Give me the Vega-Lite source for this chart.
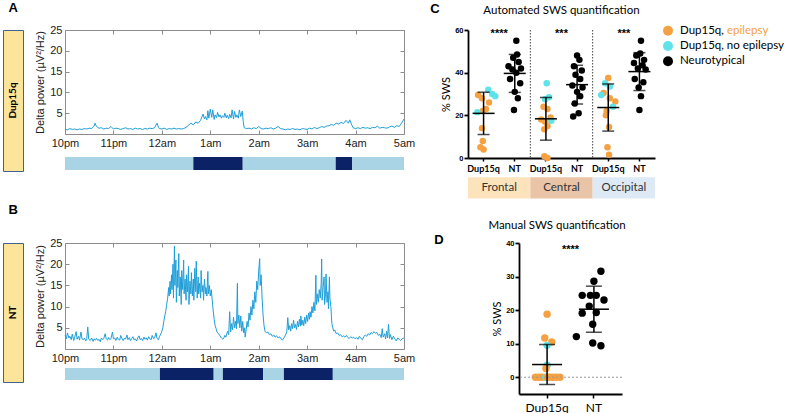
{
"$schema": "https://vega.github.io/schema/vega-lite/v6.json",
"background": "white",
"padding": {"left": 2, "top": 2, "right": 0, "bottom": 0},
"config": {"view": {"stroke": null}, "axis": {"grid": false, "labelOverlap": false}},
"datasets": {
"A": [{"t":0,"v":1.1},{"t":0.05,"v":1.0},{"t":0.1,"v":1.3},{"t":0.15,"v":1.1},{"t":0.2,"v":1.2},{"t":0.25,"v":1.0},{"t":0.3,"v":1.2},{"t":0.35,"v":1.1},{"t":0.4,"v":1.3},{"t":0.45,"v":1.2},{"t":0.5,"v":1.4},{"t":0.55,"v":1.3},{"t":0.6,"v":1.9},{"t":0.62,"v":2.6},{"t":0.65,"v":1.8},{"t":0.7,"v":1.4},{"t":0.75,"v":1.5},{"t":0.8,"v":1.2},{"t":0.85,"v":1.4},{"t":0.9,"v":1.3},{"t":0.95,"v":1.8},{"t":1.0,"v":1.2},{"t":1.05,"v":1.4},{"t":1.1,"v":1.3},{"t":1.15,"v":1.1},{"t":1.2,"v":1.3},{"t":1.25,"v":1.5},{"t":1.3,"v":1.2},{"t":1.35,"v":1.3},{"t":1.4,"v":1.1},{"t":1.45,"v":1.4},{"t":1.5,"v":1.2},{"t":1.55,"v":1.3},{"t":1.6,"v":1.1},{"t":1.65,"v":1.3},{"t":1.7,"v":1.2},{"t":1.75,"v":1.4},{"t":1.8,"v":1.3},{"t":1.85,"v":1.5},{"t":1.9,"v":2.6},{"t":1.93,"v":1.6},{"t":1.95,"v":1.3},{"t":2.0,"v":1.2},{"t":2.05,"v":1.4},{"t":2.1,"v":1.1},{"t":2.15,"v":1.3},{"t":2.2,"v":1.2},{"t":2.25,"v":1.4},{"t":2.3,"v":1.2},{"t":2.35,"v":1.3},{"t":2.4,"v":1.2},{"t":2.45,"v":1.3},{"t":2.5,"v":1.6},{"t":2.55,"v":2.1},{"t":2.6,"v":2.6},{"t":2.65,"v":2.2},{"t":2.7,"v":2.9},{"t":2.75,"v":2.6},{"t":2.8,"v":3.3},{"t":2.85,"v":4.8},{"t":2.88,"v":3.6},{"t":2.9,"v":4.2},{"t":2.93,"v":3.4},{"t":2.95,"v":5.6},{"t":2.97,"v":3.8},{"t":3.0,"v":6.0},{"t":3.03,"v":4.0},{"t":3.05,"v":5.8},{"t":3.08,"v":3.5},{"t":3.1,"v":4.6},{"t":3.13,"v":3.9},{"t":3.15,"v":5.2},{"t":3.18,"v":4.1},{"t":3.2,"v":4.6},{"t":3.23,"v":3.8},{"t":3.25,"v":4.4},{"t":3.28,"v":4.0},{"t":3.3,"v":5.0},{"t":3.33,"v":3.9},{"t":3.35,"v":4.5},{"t":3.38,"v":3.7},{"t":3.4,"v":4.7},{"t":3.43,"v":3.9},{"t":3.45,"v":5.8},{"t":3.48,"v":3.6},{"t":3.5,"v":5.4},{"t":3.53,"v":4.0},{"t":3.55,"v":4.6},{"t":3.58,"v":3.8},{"t":3.6,"v":5.8},{"t":3.63,"v":4.2},{"t":3.66,"v":5.5},{"t":3.68,"v":3.0},{"t":3.7,"v":1.5},{"t":3.75,"v":1.3},{"t":3.8,"v":1.4},{"t":3.85,"v":1.2},{"t":3.9,"v":1.5},{"t":3.95,"v":1.3},{"t":4.0,"v":1.8},{"t":4.05,"v":1.3},{"t":4.1,"v":1.2},{"t":4.15,"v":1.4},{"t":4.2,"v":1.3},{"t":4.25,"v":1.5},{"t":4.3,"v":1.2},{"t":4.35,"v":1.4},{"t":4.4,"v":1.8},{"t":4.45,"v":1.3},{"t":4.5,"v":1.2},{"t":4.55,"v":1.0},{"t":4.6,"v":1.2},{"t":4.65,"v":1.1},{"t":4.7,"v":1.3},{"t":4.75,"v":1.1},{"t":4.8,"v":1.2},{"t":4.85,"v":1.0},{"t":4.9,"v":1.3},{"t":4.95,"v":1.2},{"t":5.0,"v":1.1},{"t":5.05,"v":1.4},{"t":5.1,"v":1.2},{"t":5.15,"v":1.6},{"t":5.2,"v":1.3},{"t":5.25,"v":1.5},{"t":5.3,"v":1.8},{"t":5.35,"v":1.6},{"t":5.4,"v":1.9},{"t":5.45,"v":2.0},{"t":5.5,"v":2.3},{"t":5.55,"v":2.1},{"t":5.6,"v":2.6},{"t":5.65,"v":2.4},{"t":5.7,"v":2.8},{"t":5.75,"v":2.5},{"t":5.8,"v":3.3},{"t":5.85,"v":2.6},{"t":5.88,"v":3.4},{"t":5.92,"v":2.2},{"t":5.95,"v":1.5},{"t":6.0,"v":1.3},{"t":6.05,"v":1.5},{"t":6.1,"v":1.3},{"t":6.15,"v":1.6},{"t":6.2,"v":1.4},{"t":6.25,"v":1.5},{"t":6.3,"v":1.3},{"t":6.35,"v":1.6},{"t":6.4,"v":1.5},{"t":6.45,"v":1.9},{"t":6.5,"v":1.4},{"t":6.55,"v":1.6},{"t":6.6,"v":1.5},{"t":6.65,"v":1.4},{"t":6.7,"v":1.7},{"t":6.75,"v":1.9},{"t":6.8,"v":1.6},{"t":6.85,"v":2.0},{"t":6.9,"v":1.8},{"t":6.95,"v":2.6},{"t":7.0,"v":3.6}],
"B": [{"t":0,"v":3.2},{"t":0.03,"v":2.4},{"t":0.05,"v":3.8},{"t":0.08,"v":2.6},{"t":0.1,"v":3.0},{"t":0.13,"v":2.2},{"t":0.15,"v":3.5},{"t":0.18,"v":2.0},{"t":0.2,"v":2.8},{"t":0.23,"v":4.1},{"t":0.25,"v":2.3},{"t":0.28,"v":3.0},{"t":0.3,"v":2.1},{"t":0.33,"v":4.0},{"t":0.35,"v":2.4},{"t":0.38,"v":2.2},{"t":0.4,"v":2.6},{"t":0.43,"v":1.9},{"t":0.45,"v":2.5},{"t":0.47,"v":5.2},{"t":0.49,"v":2.3},{"t":0.52,"v":2.0},{"t":0.55,"v":2.6},{"t":0.58,"v":1.8},{"t":0.6,"v":2.4},{"t":0.63,"v":2.1},{"t":0.65,"v":2.5},{"t":0.68,"v":2.0},{"t":0.7,"v":2.3},{"t":0.73,"v":1.7},{"t":0.75,"v":2.6},{"t":0.78,"v":2.2},{"t":0.8,"v":2.5},{"t":0.83,"v":3.6},{"t":0.85,"v":2.4},{"t":0.88,"v":2.1},{"t":0.9,"v":2.7},{"t":0.93,"v":2.2},{"t":0.95,"v":2.5},{"t":0.98,"v":4.0},{"t":1.0,"v":2.4},{"t":1.03,"v":2.6},{"t":1.05,"v":2.0},{"t":1.08,"v":2.8},{"t":1.1,"v":2.3},{"t":1.13,"v":2.1},{"t":1.15,"v":3.2},{"t":1.18,"v":2.4},{"t":1.2,"v":2.0},{"t":1.23,"v":2.6},{"t":1.25,"v":2.3},{"t":1.28,"v":3.3},{"t":1.3,"v":2.2},{"t":1.33,"v":2.7},{"t":1.35,"v":2.0},{"t":1.38,"v":2.5},{"t":1.4,"v":2.9},{"t":1.43,"v":2.1},{"t":1.45,"v":2.4},{"t":1.48,"v":1.9},{"t":1.5,"v":2.6},{"t":1.53,"v":3.1},{"t":1.55,"v":2.2},{"t":1.58,"v":2.5},{"t":1.6,"v":2.0},{"t":1.63,"v":2.8},{"t":1.65,"v":2.3},{"t":1.68,"v":2.6},{"t":1.7,"v":2.1},{"t":1.73,"v":2.9},{"t":1.75,"v":2.4},{"t":1.78,"v":2.2},{"t":1.8,"v":3.2},{"t":1.83,"v":2.4},{"t":1.85,"v":2.6},{"t":1.88,"v":3.8},{"t":1.9,"v":2.5},{"t":1.93,"v":2.2},{"t":1.95,"v":2.9},{"t":1.98,"v":3.6},{"t":2.0,"v":4.2},{"t":2.02,"v":5.0},{"t":2.04,"v":6.5},{"t":2.06,"v":7.8},{"t":2.08,"v":8.9},{"t":2.1,"v":10.5},{"t":2.12,"v":12.0},{"t":2.14,"v":14.5},{"t":2.15,"v":12.5},{"t":2.17,"v":16.0},{"t":2.18,"v":13.0},{"t":2.2,"v":17.5},{"t":2.21,"v":14.0},{"t":2.23,"v":20.0},{"t":2.24,"v":12.0},{"t":2.26,"v":24.3},{"t":2.27,"v":15.0},{"t":2.29,"v":21.0},{"t":2.3,"v":11.0},{"t":2.32,"v":18.5},{"t":2.33,"v":14.5},{"t":2.35,"v":22.5},{"t":2.36,"v":12.5},{"t":2.38,"v":17.0},{"t":2.4,"v":10.5},{"t":2.41,"v":18.5},{"t":2.43,"v":14.0},{"t":2.45,"v":21.0},{"t":2.46,"v":13.0},{"t":2.48,"v":16.5},{"t":2.5,"v":11.5},{"t":2.51,"v":17.5},{"t":2.53,"v":13.5},{"t":2.55,"v":19.5},{"t":2.56,"v":10.5},{"t":2.58,"v":16.0},{"t":2.6,"v":13.0},{"t":2.61,"v":18.0},{"t":2.63,"v":12.5},{"t":2.65,"v":16.5},{"t":2.66,"v":11.5},{"t":2.68,"v":19.0},{"t":2.7,"v":13.5},{"t":2.71,"v":20.7},{"t":2.73,"v":12.0},{"t":2.75,"v":17.0},{"t":2.76,"v":13.0},{"t":2.78,"v":15.5},{"t":2.8,"v":12.0},{"t":2.81,"v":18.5},{"t":2.83,"v":13.5},{"t":2.85,"v":15.0},{"t":2.86,"v":11.5},{"t":2.88,"v":16.5},{"t":2.9,"v":13.0},{"t":2.91,"v":14.5},{"t":2.93,"v":12.5},{"t":2.95,"v":18.3},{"t":2.96,"v":13.0},{"t":2.98,"v":15.0},{"t":3.0,"v":12.5},{"t":3.02,"v":14.0},{"t":3.04,"v":11.5},{"t":3.06,"v":9.0},{"t":3.08,"v":7.0},{"t":3.1,"v":5.5},{"t":3.12,"v":4.8},{"t":3.14,"v":4.0},{"t":3.17,"v":3.6},{"t":3.2,"v":3.1},{"t":3.23,"v":2.6},{"t":3.26,"v":2.3},{"t":3.28,"v":2.6},{"t":3.3,"v":3.2},{"t":3.32,"v":2.8},{"t":3.34,"v":3.6},{"t":3.36,"v":4.2},{"t":3.38,"v":3.4},{"t":3.4,"v":8.8},{"t":3.42,"v":4.0},{"t":3.44,"v":6.0},{"t":3.46,"v":4.5},{"t":3.48,"v":7.5},{"t":3.5,"v":5.0},{"t":3.52,"v":6.5},{"t":3.54,"v":4.8},{"t":3.56,"v":15.5},{"t":3.57,"v":6.0},{"t":3.59,"v":8.0},{"t":3.61,"v":5.0},{"t":3.63,"v":7.8},{"t":3.65,"v":4.2},{"t":3.67,"v":6.5},{"t":3.69,"v":3.8},{"t":3.71,"v":5.0},{"t":3.72,"v":2.8},{"t":3.74,"v":4.5},{"t":3.76,"v":6.5},{"t":3.78,"v":5.2},{"t":3.8,"v":8.5},{"t":3.82,"v":6.8},{"t":3.84,"v":10.0},{"t":3.86,"v":8.0},{"t":3.88,"v":11.5},{"t":3.9,"v":9.5},{"t":3.92,"v":13.5},{"t":3.94,"v":11.0},{"t":3.96,"v":16.0},{"t":3.98,"v":14.0},{"t":4.0,"v":18.5},{"t":4.02,"v":21.3},{"t":4.03,"v":15.0},{"t":4.05,"v":17.5},{"t":4.07,"v":12.0},{"t":4.09,"v":8.0},{"t":4.11,"v":5.5},{"t":4.13,"v":4.2},{"t":4.16,"v":3.8},{"t":4.19,"v":4.0},{"t":4.22,"v":3.4},{"t":4.25,"v":3.6},{"t":4.28,"v":3.0},{"t":4.31,"v":3.3},{"t":4.34,"v":2.8},{"t":4.37,"v":3.1},{"t":4.4,"v":2.6},{"t":4.43,"v":2.9},{"t":4.46,"v":2.4},{"t":4.49,"v":2.1},{"t":4.52,"v":2.6},{"t":4.55,"v":3.2},{"t":4.58,"v":4.0},{"t":4.6,"v":7.4},{"t":4.62,"v":4.5},{"t":4.64,"v":5.5},{"t":4.66,"v":4.2},{"t":4.68,"v":6.0},{"t":4.7,"v":4.8},{"t":4.72,"v":6.8},{"t":4.74,"v":5.0},{"t":4.76,"v":5.8},{"t":4.78,"v":4.6},{"t":4.8,"v":6.5},{"t":4.82,"v":5.2},{"t":4.84,"v":7.0},{"t":4.86,"v":5.4},{"t":4.87,"v":7.8},{"t":4.89,"v":5.6},{"t":4.91,"v":6.8},{"t":4.93,"v":5.5},{"t":4.95,"v":7.5},{"t":4.97,"v":6.0},{"t":4.99,"v":8.0},{"t":5.01,"v":6.5},{"t":5.03,"v":8.5},{"t":5.05,"v":7.0},{"t":5.06,"v":8.8},{"t":5.08,"v":7.5},{"t":5.1,"v":10.0},{"t":5.12,"v":8.5},{"t":5.14,"v":11.0},{"t":5.16,"v":9.0},{"t":5.18,"v":17.4},{"t":5.19,"v":10.5},{"t":5.21,"v":13.0},{"t":5.23,"v":11.0},{"t":5.25,"v":14.0},{"t":5.27,"v":12.0},{"t":5.29,"v":15.5},{"t":5.3,"v":21.2},{"t":5.31,"v":11.5},{"t":5.33,"v":14.5},{"t":5.35,"v":17.0},{"t":5.36,"v":10.5},{"t":5.38,"v":13.0},{"t":5.39,"v":17.7},{"t":5.41,"v":11.0},{"t":5.43,"v":13.5},{"t":5.44,"v":9.5},{"t":5.46,"v":17.0},{"t":5.47,"v":12.0},{"t":5.49,"v":10.0},{"t":5.51,"v":6.0},{"t":5.53,"v":5.0},{"t":5.55,"v":4.2},{"t":5.57,"v":4.5},{"t":5.6,"v":3.6},{"t":5.63,"v":3.8},{"t":5.66,"v":3.2},{"t":5.69,"v":3.4},{"t":5.72,"v":2.9},{"t":5.75,"v":3.1},{"t":5.78,"v":2.8},{"t":5.81,"v":3.2},{"t":5.84,"v":2.7},{"t":5.87,"v":2.5},{"t":5.9,"v":2.9},{"t":5.93,"v":2.6},{"t":5.96,"v":2.8},{"t":5.99,"v":2.4},{"t":6.02,"v":2.7},{"t":6.05,"v":2.3},{"t":6.08,"v":3.0},{"t":6.11,"v":2.5},{"t":6.14,"v":2.2},{"t":6.17,"v":2.9},{"t":6.2,"v":3.3},{"t":6.23,"v":3.0},{"t":6.26,"v":3.6},{"t":6.29,"v":3.3},{"t":6.32,"v":3.9},{"t":6.35,"v":3.6},{"t":6.38,"v":4.1},{"t":6.41,"v":3.7},{"t":6.44,"v":3.9},{"t":6.47,"v":3.2},{"t":6.5,"v":3.5},{"t":6.53,"v":2.7},{"t":6.55,"v":4.8},{"t":6.57,"v":2.8},{"t":6.6,"v":3.6},{"t":6.62,"v":2.4},{"t":6.64,"v":4.2},{"t":6.66,"v":2.6},{"t":6.68,"v":5.8},{"t":6.7,"v":2.5},{"t":6.72,"v":3.4},{"t":6.75,"v":2.2},{"t":6.78,"v":3.0},{"t":6.81,"v":2.4},{"t":6.84,"v":1.9},{"t":6.87,"v":2.6},{"t":6.9,"v":2.3},{"t":6.93,"v":2.0},{"t":6.96,"v":2.4},{"t":7.0,"v":2.6}],
"hypA": [{"s":0,"e":2.65,"stage":"other"},{"s":2.65,"e":3.67,"stage":"SWS"},{"s":3.67,"e":5.59,"stage":"other"},{"s":5.59,"e":5.93,"stage":"SWS"},{"s":5.93,"e":7,"stage":"other"}],
"hypB": [{"s":0,"e":1.96,"stage":"other"},{"s":1.96,"e":3.07,"stage":"SWS"},{"s":3.07,"e":3.26,"stage":"other"},{"s":3.26,"e":4.09,"stage":"SWS"},{"s":4.09,"e":4.52,"stage":"other"},{"s":4.52,"e":5.53,"stage":"SWS"},{"s":5.53,"e":7,"stage":"other"}],
"regions": [{"region":"Frontal","stars":"****"},{"region":"Central","stars":"***"},{"region":"Occipital","stars":"***"}],
"C": [
{"col":"Frontal Dup15q","cat":"no epilepsy","v":32,"j":0.3},{"col":"Frontal Dup15q","cat":"no epilepsy","v":30,"j":0.55},{"col":"Frontal Dup15q","cat":"epilepsy","v":29.5,"j":-0.35},{"col":"Frontal Dup15q","cat":"epilepsy","v":28,"j":-0.1},{"col":"Frontal Dup15q","cat":"no epilepsy","v":29,"j":0.75},{"col":"Frontal Dup15q","cat":"epilepsy","v":26,"j":0.35},{"col":"Frontal Dup15q","cat":"epilepsy","v":23,"j":0.15},{"col":"Frontal Dup15q","cat":"epilepsy","v":22,"j":-0.05},{"col":"Frontal Dup15q","cat":"no epilepsy","v":21.5,"j":-0.4},{"col":"Frontal Dup15q","cat":"epilepsy","v":14,"j":-0.1},{"col":"Frontal Dup15q","cat":"epilepsy","v":8,"j":-0.05},{"col":"Frontal Dup15q","cat":"epilepsy","v":5,"j":-0.2},{"col":"Frontal Dup15q","cat":"epilepsy","v":4,"j":0.0},
{"col":"Frontal NT","cat":"NT","v":55,"j":0.1},{"col":"Frontal NT","cat":"NT","v":48.5,"j":0.15},{"col":"Frontal NT","cat":"NT","v":47,"j":-0.1},{"col":"Frontal NT","cat":"NT","v":45,"j":0.25},{"col":"Frontal NT","cat":"NT","v":43,"j":-0.4},{"col":"Frontal NT","cat":"NT","v":42,"j":0.4},{"col":"Frontal NT","cat":"NT","v":41.5,"j":-0.15},{"col":"Frontal NT","cat":"NT","v":40,"j":0.1},{"col":"Frontal NT","cat":"NT","v":37,"j":-0.3},{"col":"Frontal NT","cat":"NT","v":35,"j":0.35},{"col":"Frontal NT","cat":"NT","v":31,"j":0.0},{"col":"Frontal NT","cat":"NT","v":28,"j":0.2},{"col":"Frontal NT","cat":"NT","v":22.5,"j":-0.05},
{"col":"Central Dup15q","cat":"no epilepsy","v":35,"j":0.05},{"col":"Central Dup15q","cat":"no epilepsy","v":28.5,"j":0.2},{"col":"Central Dup15q","cat":"no epilepsy","v":27.5,"j":-0.05},{"col":"Central Dup15q","cat":"epilepsy","v":24,"j":-0.15},{"col":"Central Dup15q","cat":"epilepsy","v":23,"j":0.1},{"col":"Central Dup15q","cat":"epilepsy","v":19,"j":0.3},{"col":"Central Dup15q","cat":"epilepsy","v":18,"j":-0.3},{"col":"Central Dup15q","cat":"no epilepsy","v":17.5,"j":0.35},{"col":"Central Dup15q","cat":"epilepsy","v":17,"j":-0.05},{"col":"Central Dup15q","cat":"epilepsy","v":15,"j":0.1},{"col":"Central Dup15q","cat":"epilepsy","v":13.5,"j":-0.1},{"col":"Central Dup15q","cat":"epilepsy","v":0.8,"j":-0.1},{"col":"Central Dup15q","cat":"epilepsy","v":0,"j":0.1},
{"col":"Central NT","cat":"NT","v":48,"j":0.0},{"col":"Central NT","cat":"NT","v":46,"j":0.15},{"col":"Central NT","cat":"NT","v":43,"j":-0.2},{"col":"Central NT","cat":"NT","v":41,"j":0.3},{"col":"Central NT","cat":"NT","v":39,"j":-0.1},{"col":"Central NT","cat":"NT","v":37,"j":0.2},{"col":"Central NT","cat":"NT","v":34,"j":-0.3},{"col":"Central NT","cat":"NT","v":33,"j":0.35},{"col":"Central NT","cat":"NT","v":31,"j":0.0},{"col":"Central NT","cat":"NT","v":29,"j":0.2},{"col":"Central NT","cat":"NT","v":25.5,"j":-0.15},{"col":"Central NT","cat":"NT","v":21,"j":0.1},{"col":"Central NT","cat":"NT","v":19.5,"j":-0.25},
{"col":"Occipital Dup15q","cat":"epilepsy","v":37.5,"j":0.0},{"col":"Occipital Dup15q","cat":"no epilepsy","v":35,"j":-0.2},{"col":"Occipital Dup15q","cat":"no epilepsy","v":33.5,"j":0.1},{"col":"Occipital Dup15q","cat":"epilepsy","v":30.5,"j":-0.3},{"col":"Occipital Dup15q","cat":"no epilepsy","v":29.5,"j":-0.45},{"col":"Occipital Dup15q","cat":"epilepsy","v":28,"j":0.1},{"col":"Occipital Dup15q","cat":"epilepsy","v":26.5,"j":0.45},{"col":"Occipital Dup15q","cat":"no epilepsy","v":24,"j":0.3},{"col":"Occipital Dup15q","cat":"epilepsy","v":22,"j":-0.1},{"col":"Occipital Dup15q","cat":"epilepsy","v":20,"j":-0.15},{"col":"Occipital Dup15q","cat":"epilepsy","v":14.5,"j":0.05},{"col":"Occipital Dup15q","cat":"epilepsy","v":5,"j":-0.05},{"col":"Occipital Dup15q","cat":"epilepsy","v":1.5,"j":0.05},
{"col":"Occipital NT","cat":"NT","v":55,"j":0.1},{"col":"Occipital NT","cat":"NT","v":49,"j":0.05},{"col":"Occipital NT","cat":"NT","v":48,"j":-0.2},{"col":"Occipital NT","cat":"NT","v":46,"j":0.3},{"col":"Occipital NT","cat":"NT","v":44.5,"j":-0.35},{"col":"Occipital NT","cat":"NT","v":43.5,"j":0.2},{"col":"Occipital NT","cat":"NT","v":42,"j":-0.1},{"col":"Occipital NT","cat":"NT","v":41.5,"j":0.4},{"col":"Occipital NT","cat":"NT","v":37,"j":-0.3},{"col":"Occipital NT","cat":"NT","v":35.5,"j":0.25},{"col":"Occipital NT","cat":"NT","v":33,"j":-0.05},{"col":"Occipital NT","cat":"NT","v":29,"j":0.1},{"col":"Occipital NT","cat":"NT","v":22.5,"j":0.0}],
"D": [
{"group":"Dup15q","cat":"epilepsy","v":18.8,"j":0.0},{"group":"Dup15q","cat":"epilepsy","v":11.7,"j":-0.1},{"group":"Dup15q","cat":"epilepsy","v":10.5,"j":0.2},{"group":"Dup15q","cat":"no epilepsy","v":9.5,"j":0.0},{"group":"Dup15q","cat":"no epilepsy","v":3.6,"j":0.0},{"group":"Dup15q","cat":"epilepsy","v":2.6,"j":-0.05},{"group":"Dup15q","cat":"epilepsy","v":0,"j":-0.5},{"group":"Dup15q","cat":"epilepsy","v":0,"j":-0.35},{"group":"Dup15q","cat":"epilepsy","v":0,"j":-0.2},{"group":"Dup15q","cat":"no epilepsy","v":0,"j":-0.05},{"group":"Dup15q","cat":"epilepsy","v":0,"j":0.1},{"group":"Dup15q","cat":"epilepsy","v":0,"j":0.25},{"group":"Dup15q","cat":"epilepsy","v":0,"j":0.4},{"group":"Dup15q","cat":"epilepsy","v":0,"j":0.55},{"group":"Dup15q","cat":"epilepsy","v":0,"j":0.0},
{"group":"NT","cat":"NT","v":31.6,"j":0.3},{"group":"NT","cat":"NT","v":28.6,"j":0.0},{"group":"NT","cat":"NT","v":24.4,"j":-0.5},{"group":"NT","cat":"NT","v":24.4,"j":-0.15},{"group":"NT","cat":"NT","v":24.4,"j":0.1},{"group":"NT","cat":"NT","v":23,"j":0.43},{"group":"NT","cat":"NT","v":21.2,"j":-0.2},{"group":"NT","cat":"NT","v":19.1,"j":-0.5},{"group":"NT","cat":"NT","v":19.3,"j":0.1},{"group":"NT","cat":"NT","v":15.8,"j":-0.05},{"group":"NT","cat":"NT","v":12.1,"j":-0.75},{"group":"NT","cat":"NT","v":10.2,"j":-0.05},{"group":"NT","cat":"NT","v":9.4,"j":0.3}],
"leg": [{"k":1,"cat":"epilepsy","a":"Dup15q,","b":"epilepsy"},{"k":2,"cat":"no epilepsy","a":"Dup15q, no epilepsy","b":""},{"k":3,"cat":"NT","a":"Neurotypical","b":""}]
},
"resolve": {"scale": {"color": "independent"}},
"vconcat": [
{"resolve": {"scale": {"color": "independent"}},
 "hconcat": [
 {"title": {"text":"A","anchor":"start","frame":"bounds","fontSize":13,"fontWeight":"bold","font":"Liberation Sans","offset":9,"dx":6},
  "resolve": {"scale": {"color": "independent"}},
  "hconcat": [
   {"width":20,"height":141,"view":{"fill":"#fde49b","stroke":"#41618f","strokeWidth":1},"data":{"values":[{"lab":"Dup15q"}]},
    "mark":{"type":"text","angle":270,"fontWeight":"bold","fontSize":10,"font":"Lato","color":"black"},"encoding":{"text":{"field":"lab"}}},
   {"resolve": {"scale": {"color": "independent"}},
    "vconcat": [
     {"width":339,"height":104,"data":{"name":"A"},
      "layer":[
       {"mark":{"type":"line","color":"#1f9ed9","strokeWidth":1},
        "encoding":{"x":{"field":"t","type":"quantitative","scale":{"domain":[0,7],"nice":false},"axis":{"orient":"bottom","values":[0,1,2,3,4,5,6,7],"labelExpr":"['10pm','11pm','12am','1am','2am','3am','4am','5am'][datum.value]","title":null,"labelFont":"Liberation Sans","labelFontSize":11,"labelColor":"#222","domainColor":"#8c8c8c","tickColor":"#8c8c8c","tickSize":-4,"labelPadding":7,"labelFlush":false,"labelOverlap":false}},
         "y":{"field":"v","type":"quantitative","scale":{"domain":[0,25],"nice":false},"axis":{"values":[5,10,15,20,25],"title":"Delta power (µV²/Hz)","titleFont":"Liberation Sans","titleFontSize":11,"titleFontWeight":"normal","titleColor":"#222","labelFont":"Liberation Sans","labelFontSize":11,"labelColor":"#222","domainColor":"#8c8c8c","tickColor":"#8c8c8c","tickSize":-4,"labelPadding":7,"titlePadding":4}}}},
       {"mark":{"type":"line","opacity":0},
        "encoding":{"x":{"field":"t","type":"quantitative","axis":{"orient":"top","values":[0,1,2,3,4,5,6,7],"labels":false,"title":null,"domainColor":"#8c8c8c","tickColor":"#8c8c8c","tickSize":-4}},
         "y":{"field":"v","type":"quantitative","axis":{"orient":"right","values":[5,10,15,20,25],"labels":false,"title":null,"domainColor":"#8c8c8c","tickColor":"#8c8c8c","tickSize":-4}}}}
      ],
      "resolve":{"axis":{"x":"independent","y":"independent"}}},
     {"width":339,"height":13,"data":{"name":"hypA"},"mark":{"type":"rect"},
      "encoding":{"x":{"field":"s","type":"quantitative","scale":{"domain":[0,7],"nice":false},"axis":null},"x2":{"field":"e"},
       "color":{"field":"stage","type":"nominal","scale":{"domain":["other","SWS"],"range":["#a9d4e5","#0b2266"]},"legend":null}}}
    ], "spacing": 9}
  ], "spacing": 10},
 {"resolve": {"scale": {"color": "independent"}},
  "hconcat": [
   {"width":10,"height":1,"data":{"values":[{}]},
    "title":{"text":"C","anchor":"middle","fontSize":13,"fontWeight":"bold","font":"Liberation Sans","color":"black","offset":14},
    "mark":{"type":"rule","opacity":0},"encoding":{}},
   {"resolve": {"scale": {"color": "independent"}},
    "hconcat": [
     {"width":187,"height":128,
      "title":{"text":"Automated SWS quantification","frame":"group","font":"Lato","fontSize":11.5,"fontWeight":"normal","color":"black","offset":10},
      "layer":[
       {"data":{"name":"regions"},"layer":[
         {"mark":{"type":"rect"},"encoding":{"x":{"field":"region","type":"nominal","bandPosition":0,"scale":{"type":"band","domain":["Frontal","Central","Occipital"],"paddingInner":0,"paddingOuter":0},"axis":null},"x2":{"field":"region","bandPosition":1},"y":{"datum":-9,"type":"quantitative"},"y2":{"datum":-19},"color":{"field":"region","type":"nominal","scale":{"domain":["Frontal","Central","Occipital"],"range":["#fce3bb","#eac4a7","#dde9f5"]},"legend":null}}},
         {"mark":{"type":"text","font":"Lato","fontSize":11.5,"color":"#333"},"encoding":{"x":{"field":"region","type":"nominal","axis":null},"y":{"datum":-14,"type":"quantitative"},"text":{"field":"region"}}},
         {"transform":[{"filter":"datum.region !== 'Frontal'"}],"mark":{"type":"rule","strokeDash":[1.5,1.5],"color":"#444","strokeWidth":1},"encoding":{"x":{"field":"region","type":"nominal","bandPosition":0,"axis":null}}},
         {"mark":{"type":"text","font":"Liberation Sans","fontSize":11,"fontWeight":"bold","color":"black"},"encoding":{"x":{"field":"region","type":"nominal","axis":null},"y":{"datum":58,"type":"quantitative"},"text":{"field":"stars"}}}
       ]},
       {"data":{"name":"C"},"layer":[
         {"mark":{"type":"point","filled":true,"size":42,"opacity":1},
          "encoding":{"x":{"field":"col","type":"nominal","sort":null,"scale":{"domain":["Frontal Dup15q","Frontal NT","Central Dup15q","Central NT","Occipital Dup15q","Occipital NT"],"paddingInner":0,"paddingOuter":0},"axis":{"title":null,"labelExpr":"split(datum.label,' ')[1]","labelAngle":0,"labelFont":"Lato","labelFontSize":9,"labelFontWeight":"bold","labelColor":"black","domainColor":"black","domainWidth":1.8,"tickColor":"black","tickWidth":1.5,"tickSize":3,"labelPadding":3}},
           "xOffset":{"field":"j","type":"quantitative","scale":{"domain":[-1,1]}},
           "y":{"field":"v","type":"quantitative","title":"% SWS","scale":{"domain":[0,60],"nice":false},"axis":{"title":"% SWS","values":[0,20,40,60],"tickCount":4,"titleFont":"Lato","titleFontSize":11,"titleFontWeight":"normal","titleColor":"black","labelFont":"Liberation Sans","labelFontSize":7.5,"labelFontWeight":"bold","labelColor":"black","domainColor":"black","domainWidth":1.8,"tickColor":"black","tickWidth":1.8,"tickSize":4,"labelPadding":1,"titlePadding":3}},
           "color":{"field":"cat","type":"nominal","scale":{"domain":["epilepsy","no epilepsy","NT"],"range":["#f5a142","#5fe3e8","#000000"]},"legend":null}}},
         {"mark":{"type":"errorbar","extent":"stdev","ticks":true,"size":12,"thickness":1.5,"color":"black"},
          "encoding":{"x":{"field":"col","type":"nominal"},"y":{"field":"v","type":"quantitative","title":"% SWS"}}},
         {"mark":{"type":"tick","color":"black","thickness":1.5,"size":22},
          "encoding":{"x":{"field":"col","type":"nominal"},"y":{"aggregate":"mean","field":"v","type":"quantitative","title":"% SWS"}}}
       ]}
      ],
      "resolve":{"scale":{"x":"independent","xOffset":"independent","color":"independent"},"axis":{"x":"independent"}}},
     {"width":110,"height":32,"data":{"name":"leg"},
      "layer":[
       {"mark":{"type":"circle","size":100,"opacity":1},"encoding":{"x":{"datum":0,"type":"quantitative","scale":{"domain":[0,1]},"axis":null},"y":{"field":"k","type":"ordinal","scale":{"type":"point","padding":0.05},"axis":null},"color":{"field":"cat","type":"nominal","scale":{"domain":["epilepsy","no epilepsy","NT"],"range":["#f5a142","#5fe3e8","#000000"]},"legend":null}}},
       {"mark":{"type":"text","align":"left","dx":12,"font":"Lato","fontSize":11.5,"color":"black"},"encoding":{"x":{"datum":0,"type":"quantitative"},"y":{"field":"k","type":"ordinal"},"text":{"field":"a"}}},
       {"mark":{"type":"text","align":"left","dx":59,"font":"Lato","fontSize":11.5,"color":"#f5a142"},"encoding":{"x":{"datum":0,"type":"quantitative"},"y":{"field":"k","type":"ordinal"},"text":{"field":"b"}}}
      ]}
    ], "spacing": 8}
  ], "spacing": 0}
], "spacing": 14},
{"resolve": {"scale": {"color": "independent"}},
 "hconcat": [
 {"title": {"text":"B","anchor":"start","frame":"bounds","fontSize":13,"fontWeight":"bold","font":"Liberation Sans","offset":20,"dx":6},
  "resolve": {"scale": {"color": "independent"}},
  "hconcat": [
   {"width":20,"height":139,"view":{"fill":"#fde49b","stroke":"#41618f","strokeWidth":1},"data":{"values":[{"lab":"NT"}]},
    "mark":{"type":"text","angle":270,"fontWeight":"bold","fontSize":10,"font":"Lato","color":"black"},"encoding":{"text":{"field":"lab"}}},
   {"resolve": {"scale": {"color": "independent"}},
    "vconcat": [
     {"width":339,"height":106,"data":{"name":"B"},
      "layer":[
       {"mark":{"type":"line","color":"#1f9ed9","strokeWidth":1},
        "encoding":{"x":{"field":"t","type":"quantitative","scale":{"domain":[0,7],"nice":false},"axis":{"orient":"bottom","values":[0,1,2,3,4,5,6,7],"labelExpr":"['10pm','11pm','12am','1am','2am','3am','4am','5am'][datum.value]","title":null,"labelFont":"Liberation Sans","labelFontSize":11,"labelColor":"#222","domainColor":"#8c8c8c","tickColor":"#8c8c8c","tickSize":-4,"labelPadding":7,"labelFlush":false,"labelOverlap":false}},
         "y":{"field":"v","type":"quantitative","scale":{"domain":[0,25],"nice":false},"axis":{"values":[5,10,15,20,25],"title":"Delta power (µV²/Hz)","titleFont":"Liberation Sans","titleFontSize":11,"titleFontWeight":"normal","titleColor":"#222","labelFont":"Liberation Sans","labelFontSize":11,"labelColor":"#222","domainColor":"#8c8c8c","tickColor":"#8c8c8c","tickSize":-4,"labelPadding":7,"titlePadding":4}}}},
       {"mark":{"type":"line","opacity":0},
        "encoding":{"x":{"field":"t","type":"quantitative","axis":{"orient":"top","values":[0,1,2,3,4,5,6,7],"labels":false,"title":null,"domainColor":"#8c8c8c","tickColor":"#8c8c8c","tickSize":-4}},
         "y":{"field":"v","type":"quantitative","axis":{"orient":"right","values":[5,10,15,20,25],"labels":false,"title":null,"domainColor":"#8c8c8c","tickColor":"#8c8c8c","tickSize":-4}}}}
      ],
      "resolve":{"axis":{"x":"independent","y":"independent"}}},
     {"width":339,"height":12,"data":{"name":"hypB"},"mark":{"type":"rect"},
      "encoding":{"x":{"field":"s","type":"quantitative","scale":{"domain":[0,7],"nice":false},"axis":null},"x2":{"field":"e"},
       "color":{"field":"stage","type":"nominal","scale":{"domain":["other","SWS"],"range":["#a9d4e5","#0b2266"]},"legend":null}}}
    ], "spacing": 5}
  ], "spacing": 10},
 {"resolve": {"scale": {"color": "independent"}},
  "hconcat": [
   {"width":10,"height":8,"data":{"values":[{"L":"D"}]},"mark":{"type":"text","fontSize":13,"fontWeight":"bold","font":"Liberation Sans","color":"black","baseline":"bottom"},"encoding":{"text":{"field":"L"}}},
   {"width":103,"height":151,
    "title":{"text":"Manual SWS quantification","frame":"bounds","font":"Lato","fontSize":11.5,"fontWeight":"normal","color":"black","offset":8},
    "layer":[
     {"data":{"name":"D"},"mark":{"type":"point","filled":true,"size":55,"opacity":1},
        "encoding":{"x":{"field":"group","type":"nominal","scale":{"domain":["Dup15q","NT"],"paddingInner":0,"paddingOuter":0.1},"axis":{"title":null,"labelAngle":0,"labelFont":"Lato","labelFontSize":12,"labelColor":"black","domainColor":"black","domainWidth":1.8,"tickColor":"black","tickWidth":1.5,"tickSize":4,"labelPadding":4}},
         "xOffset":{"field":"j","type":"quantitative","scale":{"domain":[-1,1]}},
         "y":{"field":"v","type":"quantitative","title":"% SWS","scale":{"domain":[-5,40],"nice":false},"axis":{"title":"% SWS","values":[0,10,20,30,40],"tickCount":5,"titleFont":"Lato","titleFontSize":11,"titleFontWeight":"normal","titleColor":"black","labelFont":"Liberation Sans","labelFontSize":7.5,"labelFontWeight":"bold","labelColor":"black","domainColor":"black","domainWidth":1.8,"tickColor":"black","tickWidth":1.8,"tickSize":4,"labelPadding":1,"titlePadding":3}},
         "color":{"field":"cat","type":"nominal","scale":{"domain":["epilepsy","no epilepsy","NT"],"range":["#f5a142","#5fe3e8","#000000"]},"legend":null}}},
     {"data":{"values":[{"ref":0}]},"mark":{"type":"rule","color":"#9a9a9a","strokeDash":[2,2],"strokeWidth":1},"encoding":{"y":{"field":"ref","type":"quantitative","title":"% SWS"}}},
     {"data":{"name":"D"},"mark":{"type":"errorbar","extent":"stdev","ticks":true,"size":16,"thickness":1.5,"color":"black"},
        "encoding":{"x":{"field":"group","type":"nominal","title":null},"y":{"field":"v","type":"quantitative","title":"% SWS"}}},
     {"data":{"name":"D"},"mark":{"type":"tick","color":"black","thickness":1.5,"size":30},
        "encoding":{"x":{"field":"group","type":"nominal","title":null},"y":{"aggregate":"mean","field":"v","type":"quantitative","title":"% SWS"}}},
     {"data":{"values":[{"stars":"****"}]},"mark":{"type":"text","font":"Liberation Sans","fontSize":11,"fontWeight":"bold","color":"black"},"encoding":{"y":{"datum":38,"type":"quantitative","title":"% SWS"},"text":{"field":"stars"}}}
    ]}
 ], "spacing": 44}
], "spacing": 19}
],
"spacing": 5
}
